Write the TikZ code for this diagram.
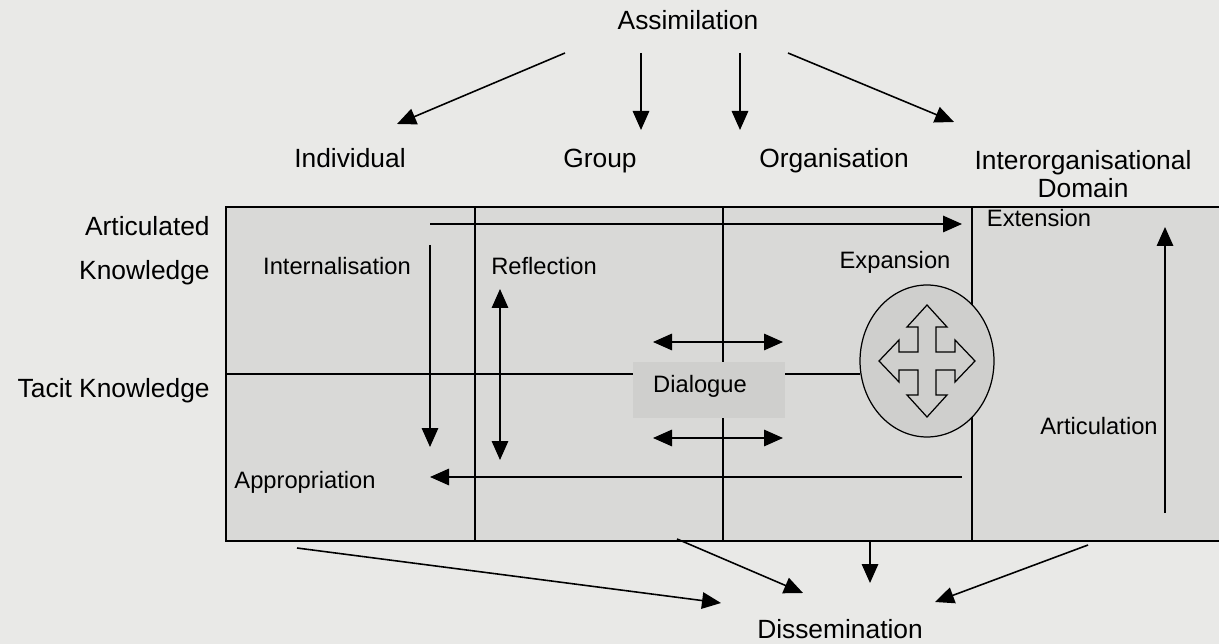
\documentclass[tikz,border=0pt]{standalone}
\usepackage{fontspec}
\setmainfont{Liberation Sans}
\usetikzlibrary{arrows.meta,positioning,shapes.geometric}
\definecolor{paper}{RGB}{233,233,231}
\definecolor{cell}{RGB}{217,217,215}
\definecolor{boxgray}{RGB}{207,207,205}

\begin{document}
\begin{tikzpicture}[
  x=0.02cm, y=-0.02cm,
  lbl/.style={inner sep=0pt, align=center, font=\fontsize{13.5}{16}\selectfont},
  head/.style={inner sep=0pt, align=center, font=\fontsize{15}{16}\selectfont},
  arr/.style={-{Triangle[length=3.8mm,width=3.3mm]}, line width=0.9pt},
  dbl/.style={{Triangle[length=3.8mm,width=3.3mm]}-{Triangle[length=3.8mm,width=3.3mm]}, line width=0.9pt},
  rule/.style={line width=0.7pt}
]
\useasboundingbox[fill=paper] (0,0) rectangle (1219,644);
% the grid of levels
\fill[cell] (226,207) rectangle (1219,541);
\draw[rule] (1219,207) -- (226,207) -- (226,541) -- (1219,541);
\draw[rule] (475,207) -- (475,541);
\draw[rule] (723,207) -- (723,541);
\draw[rule] (972,207) -- (972,541);
\draw[rule] (226,374) -- (860,374);
\fill[boxgray] (633,362) rectangle (785,418);
\node[ellipse, draw, rule, fill=boxgray, minimum width=2.68cm, minimum height=3.04cm] (expand) at (927,361) {};
% four-way arrow
\draw[rule, fill=boxgray, shift={(expand.center)}]
  (0,-56) -- (20,-34) -- (9,-34) -- (9,-9) -- (28,-9) -- (28,-21) -- (48,0) -- (28,21) -- (28,9)
  -- (9,9) -- (9,34) -- (20,34) -- (0,56) -- (-20,34) -- (-9,34) -- (-9,9) -- (-28,9) -- (-28,21)
  -- (-48,0) -- (-28,-21) -- (-28,-9) -- (-9,-9) -- (-9,-34) -- (-20,-34) -- cycle;

% labels
\node[head] (assim) at (688,20) {Assimilation};
\node[head, anchor=base] (indiv) at (350,168) {Individual};
\node[head, anchor=base] (group) at (600,168) {Group};
\node[head, anchor=base] (org) at (834,168) {Organisation};
\node[head] (inter) at (1083,174) {Interorganisational\\Domain};
\node[head, anchor=east] (artic) at (210,226) {Articulated};
\node[head, anchor=east] (knowl) at (210,273) {Knowledge};
\node[head, anchor=east] (tacit) at (210,391) {Tacit Knowledge};
\node[lbl] (intern) at (337,266) {Internalisation};
\node[lbl] (reflect) at (544,266) {Reflection};
\node[lbl] (expans) at (895,262) {Expansion};
\node[lbl] (extens) at (1039,218) {Extension};
\node[lbl] (articul) at (1099,426) {Articulation};
\node[lbl] (approp) at (305,482) {Appropriation};
\node[lbl] (dialog) at (700,386) {Dialogue};
\node[head] (dissem) at (840,629) {Dissemination};

% arrow ends
\coordinate (asA) at (565,53);  \coordinate (toIndiv) at (397,124);
\coordinate (asB) at (641,53);  \coordinate (toGroup) at (641,130);
\coordinate (asC) at (740,53);  \coordinate (toOrg) at (740,130);
\coordinate (asD) at (788,53);  \coordinate (toInter) at (954,122);
\coordinate (extS) at (430,224); \coordinate (extE) at (962,224);
\coordinate (intS) at (430,245); \coordinate (intE) at (430,447);
\coordinate (refA) at (500,289); \coordinate (refB) at (500,460);
\coordinate (appS) at (962,477); \coordinate (appE) at (430,477);
\coordinate (artS) at (1165,513); \coordinate (artE) at (1165,227);
\coordinate (dlgA) at (653,342); \coordinate (dlgB) at (783,342);
\coordinate (dlgC) at (653,438); \coordinate (dlgD) at (783,438);
\coordinate (dsA) at (297,548);  \coordinate (dsAe) at (721,603);
\coordinate (dsB) at (677,539);  \coordinate (dsBe) at (803,593);
\coordinate (dsC) at (870,541);  \coordinate (dsCe) at (870,583);
\coordinate (dsD) at (1088,545); \coordinate (dsDe) at (935,602);

\draw[arr] (asA) -- (toIndiv);
\draw[arr] (asB) -- (toGroup);
\draw[arr] (asC) -- (toOrg);
\draw[arr] (asD) -- (toInter);
\draw[arr] (extS) -- (extE);
\draw[arr] (intS) -- (intE);
\draw[dbl] (refA) -- (refB);
\draw[arr] (appS) -- (appE);
\draw[arr] (artS) -- (artE);
\draw[dbl] (dlgA) -- (dlgB);
\draw[dbl] (dlgC) -- (dlgD);
\draw[arr] (dsA) -- (dsAe);
\draw[arr] (dsB) -- (dsBe);
\draw[arr] (dsC) -- (dsCe);
\draw[arr] (dsD) -- (dsDe);
\end{tikzpicture}
\end{document}
